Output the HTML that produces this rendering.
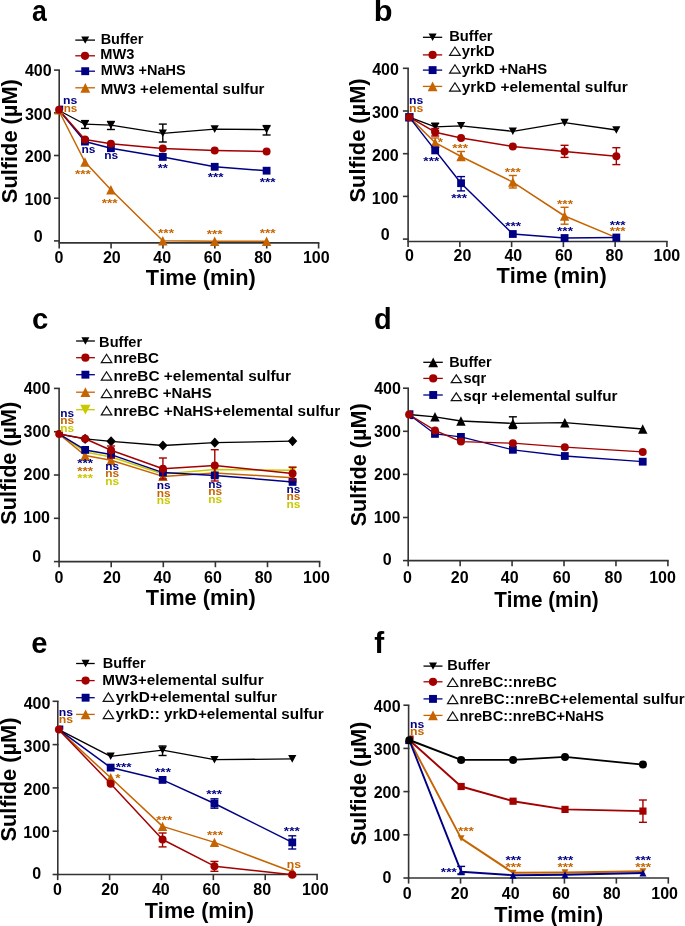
<!DOCTYPE html>
<html><head><meta charset="utf-8"><style>
html,body{margin:0;padding:0;background:#fff;overflow:hidden;}
svg{display:block;will-change:transform;}
text{font-family:"Liberation Sans",sans-serif;font-weight:bold;font-kerning:none;}
</style></head><body>
<svg width="685" height="926" viewBox="0 0 685 926">
<rect width="685" height="926" fill="#fff"/>
<text transform="translate(32.12,20.8) scale(0.9183,1.0000)" font-size="29" fill="#000000">a</text>
<line x1="59.2" y1="70.1" x2="59.2" y2="242.9" stroke="#333333" stroke-width="1.6"/>
<line x1="54" y1="240.9" x2="60" y2="240.9" stroke="#333333" stroke-width="1.6"/>
<line x1="54" y1="198.2" x2="60" y2="198.2" stroke="#333333" stroke-width="1.6"/>
<line x1="54" y1="155.5" x2="60" y2="155.5" stroke="#333333" stroke-width="1.6"/>
<line x1="54" y1="112.8" x2="60" y2="112.8" stroke="#333333" stroke-width="1.6"/>
<line x1="54" y1="70.1" x2="60" y2="70.1" stroke="#333333" stroke-width="1.6"/>
<line x1="58.4" y1="242.9" x2="319.4" y2="242.9" stroke="#333333" stroke-width="1.6"/>
<line x1="59.2" y1="242.9" x2="59.2" y2="248.5" stroke="#333333" stroke-width="1.6"/>
<line x1="111.08" y1="242.9" x2="111.08" y2="248.5" stroke="#333333" stroke-width="1.6"/>
<line x1="162.96" y1="242.9" x2="162.96" y2="248.5" stroke="#333333" stroke-width="1.6"/>
<line x1="214.84" y1="242.9" x2="214.84" y2="248.5" stroke="#333333" stroke-width="1.6"/>
<line x1="266.72" y1="242.9" x2="266.72" y2="248.5" stroke="#333333" stroke-width="1.6"/>
<line x1="318.6" y1="242.9" x2="318.6" y2="248.5" stroke="#333333" stroke-width="1.6"/>
<text transform="translate(24.96,76.31) scale(1.0000,1)" font-size="16" fill="#000000">400</text>
<text transform="translate(24.9,119.8) scale(1.0000,1)" font-size="16" fill="#000000">300</text>
<text transform="translate(24.8,162.41) scale(1.0000,1)" font-size="16" fill="#000000">200</text>
<text transform="translate(24.58,205.31) scale(1.0000,1)" font-size="16" fill="#000000">100</text>
<text transform="translate(33.66,241.91) scale(1.0000,1)" font-size="16" fill="#000000">0</text>
<text transform="translate(54.46,262.6) scale(1.0000,1)" font-size="16" fill="#000000">0</text>
<text transform="translate(102.95,262.6) scale(1.0000,1)" font-size="16" fill="#000000">20</text>
<text transform="translate(153.31,262.6) scale(1.0000,1)" font-size="16" fill="#000000">40</text>
<text transform="translate(203.74,262.6) scale(1.0000,1)" font-size="16" fill="#000000">60</text>
<text transform="translate(254.18,262.6) scale(1.0000,1)" font-size="16" fill="#000000">80</text>
<text transform="translate(302.88,262.6) scale(1.0000,1)" font-size="16" fill="#000000">100</text>
<text transform="translate(145.86,285) scale(0.9716,1.0000)" font-size="22.4" fill="#000000">Time (min)</text>
<text transform="translate(17.2,203.13) rotate(-90) scale(1.0050,1)" font-size="21.7" fill="#000000">Sulfide (µM)</text>
<line x1="75.3" y1="40.1" x2="95" y2="40.1" stroke="#000000" stroke-width="1.3"/>
<polygon points="81.2,36.38 89.2,36.38 85.2,43.82" fill="#000000"/>
<line x1="75.3" y1="55.8" x2="95" y2="55.8" stroke="#a30000" stroke-width="1.3"/>
<circle cx="85" cy="55.8" r="4.1" fill="#a30000"/>
<line x1="75.3" y1="71.2" x2="95" y2="71.2" stroke="#000084" stroke-width="1.3"/>
<rect x="81.25" y="67.25" width="7.9" height="7.9" fill="#000084"/>
<line x1="75.3" y1="87.8" x2="95" y2="87.8" stroke="#c56400" stroke-width="1.3"/>
<polygon points="80.4,92.7 90.2,92.7 85.3,82.9" fill="#c56400"/>
<text transform="translate(100.63,43.8) scale(0.9887,1.0000)" font-size="14.7" fill="#000000">Buffer</text>
<text transform="translate(100.32,58.7) scale(0.9945,1.0000)" font-size="14.7" fill="#000000">MW3</text>
<text transform="translate(100.83,75.3) scale(0.9856,1.0000)" font-size="14.7" fill="#000000">MW3 +NaHS</text>
<text transform="translate(100.79,94.2) scale(1.0259,1.0000)" font-size="14.7" fill="#000000">MW3 +elemental sulfur</text>
<polyline points="59,111 84.95,162 110.9,189.8 162.8,240.8 214.7,241.2 266.6,241.2" fill="none" stroke="#c56400" stroke-width="1.5" stroke-linejoin="round"/>
<polygon points="80.25,166.7 89.65,166.7 84.95,157.3" fill="#c56400"/>
<polygon points="106.2,194.5 115.6,194.5 110.9,185.1" fill="#c56400"/>
<polygon points="158.1,245.5 167.5,245.5 162.8,236.1" fill="#c56400"/>
<polygon points="210,245.9 219.4,245.9 214.7,236.5" fill="#c56400"/>
<polygon points="261.9,245.9 271.3,245.9 266.6,236.5" fill="#c56400"/>
<polyline points="59,110 84.95,141.6 110.9,148.2 162.8,156.9 214.7,166.8 266.6,170.7" fill="none" stroke="#000084" stroke-width="1.5" stroke-linejoin="round"/>
<rect x="81.05" y="137.7" width="7.8" height="7.8" fill="#000084"/>
<rect x="107" y="144.3" width="7.8" height="7.8" fill="#000084"/>
<rect x="158.9" y="153" width="7.8" height="7.8" fill="#000084"/>
<rect x="210.8" y="162.9" width="7.8" height="7.8" fill="#000084"/>
<rect x="262.7" y="166.8" width="7.8" height="7.8" fill="#000084"/>
<polyline points="59,110.5 84.95,124.2 110.9,125.2 162.8,133.3 214.7,129.1 266.6,129.6" fill="none" stroke="#000000" stroke-width="1.3" stroke-linejoin="round"/>
<line x1="84.95" y1="120.6" x2="84.95" y2="128.4" stroke="#000000" stroke-width="1.4"/>
<line x1="80.95" y1="120.6" x2="88.95" y2="120.6" stroke="#000000" stroke-width="1.4"/>
<line x1="80.95" y1="128.4" x2="88.95" y2="128.4" stroke="#000000" stroke-width="1.4"/>
<line x1="110.9" y1="121.5" x2="110.9" y2="129.5" stroke="#000000" stroke-width="1.4"/>
<line x1="106.9" y1="121.5" x2="114.9" y2="121.5" stroke="#000000" stroke-width="1.4"/>
<line x1="106.9" y1="129.5" x2="114.9" y2="129.5" stroke="#000000" stroke-width="1.4"/>
<line x1="162.8" y1="124.1" x2="162.8" y2="142" stroke="#000000" stroke-width="1.4"/>
<line x1="158.8" y1="124.1" x2="166.8" y2="124.1" stroke="#000000" stroke-width="1.4"/>
<line x1="158.8" y1="142" x2="166.8" y2="142" stroke="#000000" stroke-width="1.4"/>
<line x1="266.6" y1="125.6" x2="266.6" y2="135" stroke="#000000" stroke-width="1.4"/>
<line x1="262.6" y1="125.6" x2="270.6" y2="125.6" stroke="#000000" stroke-width="1.4"/>
<line x1="262.6" y1="135" x2="270.6" y2="135" stroke="#000000" stroke-width="1.4"/>
<polygon points="80.85,120.39 89.05,120.39 84.95,128.01" fill="#000000"/>
<polygon points="106.8,121.39 115,121.39 110.9,129.01" fill="#000000"/>
<polygon points="158.7,129.49 166.9,129.49 162.8,137.11" fill="#000000"/>
<polygon points="210.6,125.29 218.8,125.29 214.7,132.91" fill="#000000"/>
<polygon points="262.5,125.79 270.7,125.79 266.6,133.41" fill="#000000"/>
<polyline points="59,109.9 84.95,139.4 110.9,143.8 162.8,148.6 214.7,150.5 266.6,151.5" fill="none" stroke="#a30000" stroke-width="1.5" stroke-linejoin="round"/>
<circle cx="84.95" cy="139.4" r="4" fill="#a30000"/>
<circle cx="110.9" cy="143.8" r="4" fill="#a30000"/>
<circle cx="162.8" cy="148.6" r="4" fill="#a30000"/>
<circle cx="214.7" cy="150.5" r="4" fill="#a30000"/>
<circle cx="266.6" cy="151.5" r="4" fill="#a30000"/>
<polygon points="54.3,114.5 63.7,114.5 59,105.1" fill="#c56400"/>
<rect x="58.8" y="105.6" width="4.4" height="4.4" fill="#000084"/>
<circle cx="59.05" cy="109.7" r="3.95" fill="#a30000"/>
<text transform="translate(62.99,103.85) scale(0.1226,0.1003)" font-size="100" fill="#000084">ns</text>
<text transform="translate(63.63,112.05) scale(0.1170,0.1040)" font-size="100" fill="#c56400">ns</text>
<text transform="translate(81.56,152.64) scale(0.1198,0.1112)" font-size="100" fill="#000084">ns</text>
<text transform="translate(104.16,159.44) scale(0.1198,0.1112)" font-size="100" fill="#000084">ns</text>
<text transform="translate(157.66,171.5) scale(0.1317,0.1156)" font-size="100" fill="#000084">**</text>
<text transform="translate(74.96,177.6) scale(0.1358,0.1156)" font-size="100" fill="#c56400">***</text>
<text transform="translate(101.66,206.5) scale(0.1358,0.1156)" font-size="100" fill="#c56400">***</text>
<text transform="translate(158.06,236.8) scale(0.1358,0.1156)" font-size="100" fill="#c56400">***</text>
<text transform="translate(207.76,181.3) scale(0.1358,0.1156)" font-size="100" fill="#000084">***</text>
<text transform="translate(206.66,237.6) scale(0.1358,0.1156)" font-size="100" fill="#c56400">***</text>
<text transform="translate(259.66,185.7) scale(0.1358,0.1156)" font-size="100" fill="#000084">***</text>
<text transform="translate(259.66,236.8) scale(0.1358,0.1156)" font-size="100" fill="#c56400">***</text>
<text transform="translate(373.77,20.8) scale(1.0607,1.0000)" font-size="29" fill="#000000">b</text>
<line x1="408.1" y1="68.3" x2="408.1" y2="241.5" stroke="#333333" stroke-width="1.6"/>
<line x1="402.9" y1="239.1" x2="408.9" y2="239.1" stroke="#333333" stroke-width="1.6"/>
<line x1="402.9" y1="196.4" x2="408.9" y2="196.4" stroke="#333333" stroke-width="1.6"/>
<line x1="402.9" y1="153.7" x2="408.9" y2="153.7" stroke="#333333" stroke-width="1.6"/>
<line x1="402.9" y1="111" x2="408.9" y2="111" stroke="#333333" stroke-width="1.6"/>
<line x1="402.9" y1="68.3" x2="408.9" y2="68.3" stroke="#333333" stroke-width="1.6"/>
<line x1="407.3" y1="241.5" x2="667.7" y2="241.5" stroke="#333333" stroke-width="1.6"/>
<line x1="408.1" y1="241.5" x2="408.1" y2="247.1" stroke="#333333" stroke-width="1.6"/>
<line x1="459.86" y1="241.5" x2="459.86" y2="247.1" stroke="#333333" stroke-width="1.6"/>
<line x1="511.62" y1="241.5" x2="511.62" y2="247.1" stroke="#333333" stroke-width="1.6"/>
<line x1="563.38" y1="241.5" x2="563.38" y2="247.1" stroke="#333333" stroke-width="1.6"/>
<line x1="615.14" y1="241.5" x2="615.14" y2="247.1" stroke="#333333" stroke-width="1.6"/>
<line x1="666.9" y1="241.5" x2="666.9" y2="247.1" stroke="#333333" stroke-width="1.6"/>
<text transform="translate(372.16,75.01) scale(1.0000,1)" font-size="16" fill="#000000">400</text>
<text transform="translate(372.1,118.2) scale(1.0000,1)" font-size="16" fill="#000000">300</text>
<text transform="translate(372,161.01) scale(1.0000,1)" font-size="16" fill="#000000">200</text>
<text transform="translate(371.78,204.01) scale(1.0000,1)" font-size="16" fill="#000000">100</text>
<text transform="translate(380.86,239.71) scale(1.0000,1)" font-size="16" fill="#000000">0</text>
<text transform="translate(404.96,261) scale(1.0000,1)" font-size="16" fill="#000000">0</text>
<text transform="translate(453.55,261) scale(1.0000,1)" font-size="16" fill="#000000">20</text>
<text transform="translate(504.41,261) scale(1.0000,1)" font-size="16" fill="#000000">40</text>
<text transform="translate(554.94,261) scale(1.0000,1)" font-size="16" fill="#000000">60</text>
<text transform="translate(605.48,261) scale(1.0000,1)" font-size="16" fill="#000000">80</text>
<text transform="translate(653.48,261) scale(1.0000,1)" font-size="16" fill="#000000">100</text>
<text transform="translate(496.46,283.1) scale(0.9734,1.0000)" font-size="22.4" fill="#000000">Time (min)</text>
<text transform="translate(364.6,202.43) rotate(-90) scale(1.0058,1)" font-size="21.7" fill="#000000">Sulfide (µM)</text>
<line x1="422.9" y1="37.3" x2="442.2" y2="37.3" stroke="#000000" stroke-width="1.3"/>
<polygon points="428.6,33.58 436.6,33.58 432.6,41.02" fill="#000000"/>
<line x1="422.9" y1="54.9" x2="442.2" y2="54.9" stroke="#a30000" stroke-width="1.3"/>
<circle cx="432.6" cy="54.9" r="4.1" fill="#a30000"/>
<line x1="422.9" y1="70.1" x2="442.2" y2="70.1" stroke="#000084" stroke-width="1.3"/>
<rect x="428.65" y="66.15" width="7.9" height="7.9" fill="#000084"/>
<line x1="422.9" y1="86.4" x2="442.2" y2="86.4" stroke="#c56400" stroke-width="1.3"/>
<polygon points="427.7,91.3 437.5,91.3 432.6,81.5" fill="#c56400"/>
<text transform="translate(449.21,40.6) scale(1.0168,1.0000)" font-size="14.5" fill="#000000">Buffer</text>
<polygon points="449.6,55.4 460.3,55.4 454.95,47" fill="none" stroke="#111" stroke-width="1.2" stroke-linejoin="miter"/>
<text transform="translate(461.78,56) scale(1.0184,1.0000)" font-size="14.5" fill="#000000">yrkD</text>
<polygon points="449.6,73.2 460.3,73.2 454.95,64.8" fill="none" stroke="#111" stroke-width="1.2" stroke-linejoin="miter"/>
<text transform="translate(461.78,73.8) scale(1.0249,1.0000)" font-size="14.5" fill="#000000">yrkD +NaHS</text>
<polygon points="449.6,91.2 460.3,91.2 454.95,82.8" fill="none" stroke="#111" stroke-width="1.2" stroke-linejoin="miter"/>
<text transform="translate(461.78,91.8) scale(1.0649,1.0000)" font-size="14.5" fill="#000000">yrkD +elemental sulfur</text>
<polyline points="409.3,117.1 435.18,142.7 461.06,156.5 512.82,182.1 564.58,216 616.34,237.6" fill="none" stroke="#c56400" stroke-width="1.5" stroke-linejoin="round"/>
<line x1="435.18" y1="138" x2="435.18" y2="147.5" stroke="#c56400" stroke-width="1.4"/>
<line x1="431.18" y1="138" x2="439.18" y2="138" stroke="#c56400" stroke-width="1.4"/>
<line x1="431.18" y1="147.5" x2="439.18" y2="147.5" stroke="#c56400" stroke-width="1.4"/>
<line x1="461.06" y1="151.5" x2="461.06" y2="160.2" stroke="#c56400" stroke-width="1.4"/>
<line x1="457.06" y1="151.5" x2="465.06" y2="151.5" stroke="#c56400" stroke-width="1.4"/>
<line x1="457.06" y1="160.2" x2="465.06" y2="160.2" stroke="#c56400" stroke-width="1.4"/>
<line x1="512.82" y1="175.5" x2="512.82" y2="188" stroke="#c56400" stroke-width="1.4"/>
<line x1="508.82" y1="175.5" x2="516.82" y2="175.5" stroke="#c56400" stroke-width="1.4"/>
<line x1="508.82" y1="188" x2="516.82" y2="188" stroke="#c56400" stroke-width="1.4"/>
<line x1="564.58" y1="207.3" x2="564.58" y2="224.2" stroke="#c56400" stroke-width="1.4"/>
<line x1="560.58" y1="207.3" x2="568.58" y2="207.3" stroke="#c56400" stroke-width="1.4"/>
<line x1="560.58" y1="224.2" x2="568.58" y2="224.2" stroke="#c56400" stroke-width="1.4"/>
<polygon points="430.48,147.4 439.88,147.4 435.18,138" fill="#c56400"/>
<polygon points="456.36,161.2 465.76,161.2 461.06,151.8" fill="#c56400"/>
<polygon points="508.12,186.8 517.52,186.8 512.82,177.4" fill="#c56400"/>
<polygon points="559.88,220.7 569.28,220.7 564.58,211.3" fill="#c56400"/>
<polyline points="409.3,117.1 435.18,150.4 461.06,183.2 512.82,234 564.58,238 616.34,237.5" fill="none" stroke="#000084" stroke-width="1.5" stroke-linejoin="round"/>
<line x1="461.06" y1="176.6" x2="461.06" y2="190.9" stroke="#000084" stroke-width="1.4"/>
<line x1="457.06" y1="176.6" x2="465.06" y2="176.6" stroke="#000084" stroke-width="1.4"/>
<line x1="457.06" y1="190.9" x2="465.06" y2="190.9" stroke="#000084" stroke-width="1.4"/>
<rect x="431.28" y="146.5" width="7.8" height="7.8" fill="#000084"/>
<rect x="457.16" y="179.3" width="7.8" height="7.8" fill="#000084"/>
<rect x="508.92" y="230.1" width="7.8" height="7.8" fill="#000084"/>
<rect x="560.68" y="234.1" width="7.8" height="7.8" fill="#000084"/>
<rect x="612.44" y="233.6" width="7.8" height="7.8" fill="#000084"/>
<polyline points="409.3,117.1 435.18,126.8 461.06,125.8 512.82,131.3 564.58,122.6 616.34,130" fill="none" stroke="#000000" stroke-width="1.3" stroke-linejoin="round"/>
<line x1="435.18" y1="123.2" x2="435.18" y2="131" stroke="#000000" stroke-width="1.4"/>
<line x1="431.18" y1="123.2" x2="439.18" y2="123.2" stroke="#000000" stroke-width="1.4"/>
<line x1="431.18" y1="131" x2="439.18" y2="131" stroke="#000000" stroke-width="1.4"/>
<polygon points="431.08,122.99 439.28,122.99 435.18,130.61" fill="#000000"/>
<polygon points="456.96,121.99 465.16,121.99 461.06,129.61" fill="#000000"/>
<polygon points="508.72,127.49 516.92,127.49 512.82,135.11" fill="#000000"/>
<polygon points="560.48,118.79 568.68,118.79 564.58,126.41" fill="#000000"/>
<polygon points="612.24,126.19 620.44,126.19 616.34,133.81" fill="#000000"/>
<polyline points="409.3,117.1 435.18,132.2 461.06,137.9 512.82,146.4 564.58,151.5 616.34,156.3" fill="none" stroke="#a30000" stroke-width="1.5" stroke-linejoin="round"/>
<line x1="435.18" y1="128.5" x2="435.18" y2="136" stroke="#a30000" stroke-width="1.4"/>
<line x1="431.18" y1="128.5" x2="439.18" y2="128.5" stroke="#a30000" stroke-width="1.4"/>
<line x1="431.18" y1="136" x2="439.18" y2="136" stroke="#a30000" stroke-width="1.4"/>
<line x1="564.58" y1="145.3" x2="564.58" y2="157.4" stroke="#a30000" stroke-width="1.4"/>
<line x1="560.58" y1="145.3" x2="568.58" y2="145.3" stroke="#a30000" stroke-width="1.4"/>
<line x1="560.58" y1="157.4" x2="568.58" y2="157.4" stroke="#a30000" stroke-width="1.4"/>
<line x1="616.34" y1="147.7" x2="616.34" y2="164.6" stroke="#a30000" stroke-width="1.4"/>
<line x1="612.34" y1="147.7" x2="620.34" y2="147.7" stroke="#a30000" stroke-width="1.4"/>
<line x1="612.34" y1="164.6" x2="620.34" y2="164.6" stroke="#a30000" stroke-width="1.4"/>
<circle cx="435.18" cy="132.2" r="4" fill="#a30000"/>
<circle cx="461.06" cy="137.9" r="4" fill="#a30000"/>
<circle cx="512.82" cy="146.4" r="4" fill="#a30000"/>
<circle cx="564.58" cy="151.5" r="4" fill="#a30000"/>
<circle cx="616.34" cy="156.3" r="4" fill="#a30000"/>
<rect x="405.15" y="113.1" width="8.4" height="8.4" fill="#000084"/>
<circle cx="409.3" cy="117.2" r="4" fill="#a30000"/>
<text transform="translate(408.99,103.85) scale(0.1226,0.1003)" font-size="100" fill="#000084">ns</text>
<text transform="translate(408.99,112.15) scale(0.1226,0.1003)" font-size="100" fill="#c56400">ns</text>
<text transform="translate(437.86,145.8) scale(0.1350,0.1156)" font-size="100" fill="#c56400">*</text>
<text transform="translate(423.36,164.5) scale(0.1358,0.1156)" font-size="100" fill="#000084">***</text>
<text transform="translate(452.26,152.4) scale(0.1358,0.1156)" font-size="100" fill="#c56400">***</text>
<text transform="translate(451.16,202.1) scale(0.1358,0.1156)" font-size="100" fill="#000084">***</text>
<text transform="translate(504.86,176.3) scale(0.1358,0.1156)" font-size="100" fill="#c56400">***</text>
<text transform="translate(505.26,230.2) scale(0.1358,0.1156)" font-size="100" fill="#000084">***</text>
<text transform="translate(557.06,208.3) scale(0.1358,0.1156)" font-size="100" fill="#c56400">***</text>
<text transform="translate(557.06,235) scale(0.1358,0.1156)" font-size="100" fill="#000084">***</text>
<text transform="translate(609.66,228.8) scale(0.1358,0.1156)" font-size="100" fill="#000084">***</text>
<text transform="translate(609.66,235) scale(0.1358,0.1156)" font-size="100" fill="#c56400">***</text>
<text transform="translate(31.95,329.4) scale(1.0109,1.0000)" font-size="29" fill="#000000">c</text>
<line x1="59.1" y1="388.4" x2="59.1" y2="561.6" stroke="#333333" stroke-width="1.6"/>
<line x1="53.9" y1="561.6" x2="59.9" y2="561.6" stroke="#333333" stroke-width="1.6"/>
<line x1="53.9" y1="518.3" x2="59.9" y2="518.3" stroke="#333333" stroke-width="1.6"/>
<line x1="53.9" y1="475" x2="59.9" y2="475" stroke="#333333" stroke-width="1.6"/>
<line x1="53.9" y1="431.7" x2="59.9" y2="431.7" stroke="#333333" stroke-width="1.6"/>
<line x1="53.9" y1="388.4" x2="59.9" y2="388.4" stroke="#333333" stroke-width="1.6"/>
<line x1="58.3" y1="561.6" x2="320.4" y2="561.6" stroke="#333333" stroke-width="1.6"/>
<line x1="59.1" y1="561.6" x2="59.1" y2="567.2" stroke="#333333" stroke-width="1.6"/>
<line x1="111.2" y1="561.6" x2="111.2" y2="567.2" stroke="#333333" stroke-width="1.6"/>
<line x1="163.3" y1="561.6" x2="163.3" y2="567.2" stroke="#333333" stroke-width="1.6"/>
<line x1="215.4" y1="561.6" x2="215.4" y2="567.2" stroke="#333333" stroke-width="1.6"/>
<line x1="267.5" y1="561.6" x2="267.5" y2="567.2" stroke="#333333" stroke-width="1.6"/>
<line x1="319.6" y1="561.6" x2="319.6" y2="567.2" stroke="#333333" stroke-width="1.6"/>
<text transform="translate(23.66,393.71) scale(1.0000,1)" font-size="16" fill="#000000">400</text>
<text transform="translate(23.6,436.8) scale(1.0000,1)" font-size="16" fill="#000000">300</text>
<text transform="translate(23.5,480.21) scale(1.0000,1)" font-size="16" fill="#000000">200</text>
<text transform="translate(23.28,523.11) scale(1.0000,1)" font-size="16" fill="#000000">100</text>
<text transform="translate(32.36,561.81) scale(1.0000,1)" font-size="16" fill="#000000">0</text>
<text transform="translate(54.41,583.3) scale(1.0000,1)" font-size="16" fill="#000000">0</text>
<text transform="translate(103,583.3) scale(1.0000,1)" font-size="16" fill="#000000">20</text>
<text transform="translate(153.61,583.3) scale(1.0000,1)" font-size="16" fill="#000000">40</text>
<text transform="translate(204.04,583.3) scale(1.0000,1)" font-size="16" fill="#000000">60</text>
<text transform="translate(254.68,583.3) scale(1.0000,1)" font-size="16" fill="#000000">80</text>
<text transform="translate(303.08,583.3) scale(1.0000,1)" font-size="16" fill="#000000">100</text>
<text transform="translate(145.86,605.2) scale(0.9716,1.0000)" font-size="22.4" fill="#000000">Time (min)</text>
<text transform="translate(16.2,524.72) rotate(-90) scale(0.9976,1)" font-size="21.7" fill="#000000">Sulfide (µM)</text>
<line x1="76.1" y1="341" x2="94.9" y2="341" stroke="#000000" stroke-width="1.3"/>
<polygon points="81.4,337.28 89.4,337.28 85.4,344.72" fill="#000000"/>
<line x1="76.1" y1="357.7" x2="94.9" y2="357.7" stroke="#a30000" stroke-width="1.3"/>
<circle cx="85.4" cy="357.7" r="4.1" fill="#a30000"/>
<line x1="76.1" y1="374.7" x2="94.9" y2="374.7" stroke="#000084" stroke-width="1.3"/>
<rect x="81.45" y="370.75" width="7.9" height="7.9" fill="#000084"/>
<line x1="76.1" y1="392.2" x2="94.9" y2="392.2" stroke="#c56400" stroke-width="1.3"/>
<polygon points="80.5,397.1 90.3,397.1 85.4,387.3" fill="#c56400"/>
<line x1="76.1" y1="409.7" x2="94.9" y2="409.7" stroke="#c9c900" stroke-width="1.3"/>
<polygon points="80.2,404.86 90.6,404.86 85.4,414.54" fill="#c9c900"/>
<text transform="translate(99.12,346.6) scale(1.0026,1.0000)" font-size="14.6" fill="#000000">Buffer</text>
<polygon points="101.3,362.7 111.8,362.7 106.55,354.3" fill="none" stroke="#111" stroke-width="1.2" stroke-linejoin="miter"/>
<text transform="translate(113.4,363.3) scale(1.0390,1.0000)" font-size="14.6" fill="#000000">nreBC</text>
<polygon points="101.3,380.2 111.8,380.2 106.55,371.8" fill="none" stroke="#111" stroke-width="1.2" stroke-linejoin="miter"/>
<text transform="translate(113.38,380.8) scale(1.0552,1.0000)" font-size="14.6" fill="#000000">nreBC +elemental sulfur</text>
<polygon points="101.3,397.7 111.8,397.7 106.55,389.3" fill="none" stroke="#111" stroke-width="1.2" stroke-linejoin="miter"/>
<text transform="translate(113.41,398.3) scale(1.0330,1.0000)" font-size="14.6" fill="#000000">nreBC +NaHS</text>
<polygon points="101.3,414.9 111.8,414.9 106.55,406.5" fill="none" stroke="#111" stroke-width="1.2" stroke-linejoin="miter"/>
<text transform="translate(113.39,415.5) scale(1.0520,1.0000)" font-size="14.6" fill="#000000">nreBC +NaHS+elemental sulfur</text>
<polyline points="59.2,434.1 85.13,452 111.06,457 162.92,474 214.78,469.6 292.57,470.3" fill="none" stroke="#c9c900" stroke-width="1.5" stroke-linejoin="round"/>
<polygon points="81.03,448.19 89.23,448.19 85.13,455.81" fill="#c9c900"/>
<polygon points="106.96,453.19 115.16,453.19 111.06,460.81" fill="#c9c900"/>
<polygon points="158.82,470.19 167.02,470.19 162.92,477.81" fill="#c9c900"/>
<polygon points="210.68,465.79 218.88,465.79 214.78,473.41" fill="#c9c900"/>
<polygon points="288.47,466.49 296.67,466.49 292.57,474.11" fill="#c9c900"/>
<polyline points="59.2,434.1 85.13,455.5 111.06,460.3 162.92,476.4 214.78,473 292.57,477.7" fill="none" stroke="#c56400" stroke-width="1.5" stroke-linejoin="round"/>
<polygon points="80.43,460.2 89.83,460.2 85.13,450.8" fill="#c56400"/>
<polygon points="106.36,465 115.76,465 111.06,455.6" fill="#c56400"/>
<polygon points="158.22,481.1 167.62,481.1 162.92,471.7" fill="#c56400"/>
<polygon points="210.08,477.7 219.48,477.7 214.78,468.3" fill="#c56400"/>
<polygon points="287.87,482.4 297.27,482.4 292.57,473" fill="#c56400"/>
<polyline points="59.2,434.1 85.13,449.9 111.06,454.6 162.92,472.6 214.78,475.4 292.57,481.9" fill="none" stroke="#000084" stroke-width="1.5" stroke-linejoin="round"/>
<rect x="81.23" y="446" width="7.8" height="7.8" fill="#000084"/>
<rect x="107.16" y="450.7" width="7.8" height="7.8" fill="#000084"/>
<rect x="159.02" y="468.7" width="7.8" height="7.8" fill="#000084"/>
<rect x="210.88" y="471.5" width="7.8" height="7.8" fill="#000084"/>
<rect x="288.67" y="478" width="7.8" height="7.8" fill="#000084"/>
<polyline points="59.2,434.1 85.13,438.8 111.06,441.3 162.92,445.5 214.78,442.7 292.57,441.1" fill="none" stroke="#000000" stroke-width="1.3" stroke-linejoin="round"/>
<polygon points="85.13,433.7 89.83,438.8 85.13,443.9 80.43,438.8" fill="#000000"/>
<polygon points="111.06,436.2 115.76,441.3 111.06,446.4 106.36,441.3" fill="#000000"/>
<polygon points="162.92,440.4 167.62,445.5 162.92,450.6 158.22,445.5" fill="#000000"/>
<polygon points="214.78,437.6 219.48,442.7 214.78,447.8 210.08,442.7" fill="#000000"/>
<polygon points="292.57,436 297.27,441.1 292.57,446.2 287.87,441.1" fill="#000000"/>
<polyline points="59.2,434.1 85.13,438.8 111.06,450.2 162.92,468.8 214.78,465.4 292.57,473.5" fill="none" stroke="#a30000" stroke-width="1.5" stroke-linejoin="round"/>
<line x1="111.06" y1="446" x2="111.06" y2="458" stroke="#a30000" stroke-width="1.4"/>
<line x1="107.06" y1="446" x2="115.06" y2="446" stroke="#a30000" stroke-width="1.4"/>
<line x1="107.06" y1="458" x2="115.06" y2="458" stroke="#a30000" stroke-width="1.4"/>
<line x1="162.92" y1="458" x2="162.92" y2="479" stroke="#a30000" stroke-width="1.4"/>
<line x1="158.92" y1="458" x2="166.92" y2="458" stroke="#a30000" stroke-width="1.4"/>
<line x1="158.92" y1="479" x2="166.92" y2="479" stroke="#a30000" stroke-width="1.4"/>
<line x1="214.78" y1="449.7" x2="214.78" y2="481" stroke="#a30000" stroke-width="1.4"/>
<line x1="210.78" y1="449.7" x2="218.78" y2="449.7" stroke="#a30000" stroke-width="1.4"/>
<line x1="210.78" y1="481" x2="218.78" y2="481" stroke="#a30000" stroke-width="1.4"/>
<line x1="292.57" y1="467.2" x2="292.57" y2="480" stroke="#a30000" stroke-width="1.4"/>
<line x1="288.57" y1="467.2" x2="296.57" y2="467.2" stroke="#a30000" stroke-width="1.4"/>
<line x1="288.57" y1="480" x2="296.57" y2="480" stroke="#a30000" stroke-width="1.4"/>
<circle cx="85.13" cy="438.8" r="4" fill="#a30000"/>
<circle cx="111.06" cy="450.2" r="4" fill="#a30000"/>
<circle cx="162.92" cy="468.8" r="4" fill="#a30000"/>
<circle cx="214.78" cy="465.4" r="4" fill="#a30000"/>
<circle cx="292.57" cy="473.5" r="4" fill="#a30000"/>
<circle cx="59.2" cy="433.9" r="4" fill="#a30000"/>
<text transform="translate(60.22,417) scale(0.1189,0.1021)" font-size="100" fill="#000084">ns</text>
<text transform="translate(60.22,424.4) scale(0.1189,0.1021)" font-size="100" fill="#c56400">ns</text>
<text transform="translate(60.22,431.9) scale(0.1189,0.1021)" font-size="100" fill="#c9c900">ns</text>
<text transform="translate(77.16,467.4) scale(0.1358,0.1156)" font-size="100" fill="#000084">***</text>
<text transform="translate(77.16,474.6) scale(0.1358,0.1156)" font-size="100" fill="#c56400">***</text>
<text transform="translate(77.16,481.8) scale(0.1358,0.1156)" font-size="100" fill="#c9c900">***</text>
<text transform="translate(105.22,469.7) scale(0.1189,0.1021)" font-size="100" fill="#000084">ns</text>
<text transform="translate(105.22,477.3) scale(0.1189,0.1021)" font-size="100" fill="#c56400">ns</text>
<text transform="translate(105.22,485) scale(0.1189,0.1021)" font-size="100" fill="#c9c900">ns</text>
<text transform="translate(156.82,489.2) scale(0.1189,0.1021)" font-size="100" fill="#000084">ns</text>
<text transform="translate(156.82,496.8) scale(0.1189,0.1021)" font-size="100" fill="#c56400">ns</text>
<text transform="translate(156.82,504.4) scale(0.1189,0.1021)" font-size="100" fill="#c9c900">ns</text>
<text transform="translate(208.32,487.6) scale(0.1189,0.1021)" font-size="100" fill="#000084">ns</text>
<text transform="translate(208.32,495.1) scale(0.1189,0.1021)" font-size="100" fill="#c56400">ns</text>
<text transform="translate(208.32,502.8) scale(0.1189,0.1021)" font-size="100" fill="#c9c900">ns</text>
<text transform="translate(286.52,492.7) scale(0.1189,0.1021)" font-size="100" fill="#000084">ns</text>
<text transform="translate(286.52,500.2) scale(0.1189,0.1021)" font-size="100" fill="#c56400">ns</text>
<text transform="translate(286.52,507.9) scale(0.1189,0.1021)" font-size="100" fill="#c9c900">ns</text>
<text transform="translate(374.11,329.4) scale(0.9991,1.0000)" font-size="29" fill="#000000">d</text>
<line x1="408.2" y1="388.2" x2="408.2" y2="560.6" stroke="#333333" stroke-width="1.6"/>
<line x1="403" y1="560.6" x2="409" y2="560.6" stroke="#333333" stroke-width="1.6"/>
<line x1="403" y1="517.5" x2="409" y2="517.5" stroke="#333333" stroke-width="1.6"/>
<line x1="403" y1="474.4" x2="409" y2="474.4" stroke="#333333" stroke-width="1.6"/>
<line x1="403" y1="431.3" x2="409" y2="431.3" stroke="#333333" stroke-width="1.6"/>
<line x1="403" y1="388.2" x2="409" y2="388.2" stroke="#333333" stroke-width="1.6"/>
<line x1="407.4" y1="560.6" x2="668.7" y2="560.6" stroke="#333333" stroke-width="1.6"/>
<line x1="408.2" y1="560.6" x2="408.2" y2="566.2" stroke="#333333" stroke-width="1.6"/>
<line x1="460.14" y1="560.6" x2="460.14" y2="566.2" stroke="#333333" stroke-width="1.6"/>
<line x1="512.08" y1="560.6" x2="512.08" y2="566.2" stroke="#333333" stroke-width="1.6"/>
<line x1="564.02" y1="560.6" x2="564.02" y2="566.2" stroke="#333333" stroke-width="1.6"/>
<line x1="615.96" y1="560.6" x2="615.96" y2="566.2" stroke="#333333" stroke-width="1.6"/>
<line x1="667.9" y1="560.6" x2="667.9" y2="566.2" stroke="#333333" stroke-width="1.6"/>
<text transform="translate(374.16,394.41) scale(1.0000,1)" font-size="16" fill="#000000">400</text>
<text transform="translate(374.1,437) scale(1.0000,1)" font-size="16" fill="#000000">300</text>
<text transform="translate(374,480.21) scale(1.0000,1)" font-size="16" fill="#000000">200</text>
<text transform="translate(373.78,523.21) scale(1.0000,1)" font-size="16" fill="#000000">100</text>
<text transform="translate(382.86,564.91) scale(1.0000,1)" font-size="16" fill="#000000">0</text>
<text transform="translate(403.06,582.8) scale(1.0000,1)" font-size="16" fill="#000000">0</text>
<text transform="translate(450.75,582.8) scale(1.0000,1)" font-size="16" fill="#000000">20</text>
<text transform="translate(500.81,582.8) scale(1.0000,1)" font-size="16" fill="#000000">40</text>
<text transform="translate(552.74,582.8) scale(1.0000,1)" font-size="16" fill="#000000">60</text>
<text transform="translate(604.48,582.8) scale(1.0000,1)" font-size="16" fill="#000000">80</text>
<text transform="translate(649.18,582.8) scale(1.0000,1)" font-size="16" fill="#000000">100</text>
<text transform="translate(494.17,607) scale(0.9233,1.0000)" font-size="22.4" fill="#000000">Time (min)</text>
<text transform="translate(366.4,526.32) rotate(-90) scale(0.9976,1)" font-size="21.7" fill="#000000">Sulfide (µM)</text>
<line x1="423.3" y1="362.3" x2="442.8" y2="362.3" stroke="#000000" stroke-width="1.3"/>
<polygon points="428.3,367.2 438.1,367.2 433.2,357.4" fill="#000000"/>
<line x1="423.3" y1="378.4" x2="442.8" y2="378.4" stroke="#a30000" stroke-width="1.3"/>
<circle cx="433.2" cy="378.4" r="4.1" fill="#a30000"/>
<line x1="423.3" y1="395" x2="442.8" y2="395" stroke="#000084" stroke-width="1.3"/>
<rect x="429.25" y="391.05" width="7.9" height="7.9" fill="#000084"/>
<text transform="translate(449.13,366.6) scale(0.9839,1.0000)" font-size="14.7" fill="#000000">Buffer</text>
<polygon points="451.2,382.7 461.4,382.7 456.3,374.9" fill="none" stroke="#111" stroke-width="1.2" stroke-linejoin="miter"/>
<text transform="translate(463.38,383.3) scale(0.9592,1.0000)" font-size="15.3" fill="#000000">sqr</text>
<polygon points="451.2,400.6 461.4,400.6 456.3,392.8" fill="none" stroke="#111" stroke-width="1.2" stroke-linejoin="miter"/>
<text transform="translate(463.36,401.2) scale(0.9990,1.0000)" font-size="15.3" fill="#000000">sqr +elemental sulfur</text>
<polyline points="409,414.5 434.97,433.9 460.94,436.9 512.88,449.8 564.82,456 642.73,461.7" fill="none" stroke="#000084" stroke-width="1.3" stroke-linejoin="round"/>
<rect x="431.07" y="430" width="7.8" height="7.8" fill="#000084"/>
<rect x="457.04" y="433" width="7.8" height="7.8" fill="#000084"/>
<rect x="508.98" y="445.9" width="7.8" height="7.8" fill="#000084"/>
<rect x="560.92" y="452.1" width="7.8" height="7.8" fill="#000084"/>
<rect x="638.83" y="457.8" width="7.8" height="7.8" fill="#000084"/>
<polyline points="409,414.5 434.97,416.8 460.94,421 512.88,423.4 564.82,422.7 642.73,429" fill="none" stroke="#000000" stroke-width="1.3" stroke-linejoin="round"/>
<line x1="512.88" y1="416.8" x2="512.88" y2="428.5" stroke="#000000" stroke-width="1.4"/>
<line x1="508.88" y1="416.8" x2="516.88" y2="416.8" stroke="#000000" stroke-width="1.4"/>
<line x1="508.88" y1="428.5" x2="516.88" y2="428.5" stroke="#000000" stroke-width="1.4"/>
<polygon points="430.27,421.5 439.67,421.5 434.97,412.1" fill="#000000"/>
<polygon points="456.24,425.7 465.64,425.7 460.94,416.3" fill="#000000"/>
<polygon points="508.18,428.1 517.58,428.1 512.88,418.7" fill="#000000"/>
<polygon points="560.12,427.4 569.52,427.4 564.82,418" fill="#000000"/>
<polygon points="638.03,433.7 647.43,433.7 642.73,424.3" fill="#000000"/>
<polyline points="409,414.5 434.97,430.4 460.94,441.6 512.88,443.2 564.82,447.2 642.73,451.9" fill="none" stroke="#a30000" stroke-width="1.3" stroke-linejoin="round"/>
<circle cx="434.97" cy="430.4" r="4" fill="#a30000"/>
<circle cx="460.94" cy="441.6" r="4" fill="#a30000"/>
<circle cx="512.88" cy="443.2" r="4" fill="#a30000"/>
<circle cx="564.82" cy="447.2" r="4" fill="#a30000"/>
<circle cx="642.73" cy="451.9" r="4" fill="#a30000"/>
<rect x="409.2" y="410.3" width="4.2" height="4.2" fill="#000084"/>
<rect x="409.8" y="415.5" width="3.6" height="3.6" fill="#000084"/>
<circle cx="409.1" cy="414.5" r="4" fill="#a30000"/>
<text transform="translate(31.16,653.3) scale(1.0068,1.0000)" font-size="29" fill="#000000">e</text>
<line x1="57.8" y1="701.3" x2="57.8" y2="874.5" stroke="#333333" stroke-width="1.6"/>
<line x1="52.6" y1="874.5" x2="58.6" y2="874.5" stroke="#333333" stroke-width="1.6"/>
<line x1="52.6" y1="831.2" x2="58.6" y2="831.2" stroke="#333333" stroke-width="1.6"/>
<line x1="52.6" y1="787.9" x2="58.6" y2="787.9" stroke="#333333" stroke-width="1.6"/>
<line x1="52.6" y1="744.6" x2="58.6" y2="744.6" stroke="#333333" stroke-width="1.6"/>
<line x1="52.6" y1="701.3" x2="58.6" y2="701.3" stroke="#333333" stroke-width="1.6"/>
<line x1="57" y1="874.5" x2="317.9" y2="874.5" stroke="#333333" stroke-width="1.6"/>
<line x1="57.7" y1="874.5" x2="57.7" y2="880.1" stroke="#333333" stroke-width="1.6"/>
<line x1="109.58" y1="874.5" x2="109.58" y2="880.1" stroke="#333333" stroke-width="1.6"/>
<line x1="161.46" y1="874.5" x2="161.46" y2="880.1" stroke="#333333" stroke-width="1.6"/>
<line x1="213.34" y1="874.5" x2="213.34" y2="880.1" stroke="#333333" stroke-width="1.6"/>
<line x1="265.22" y1="874.5" x2="265.22" y2="880.1" stroke="#333333" stroke-width="1.6"/>
<line x1="317.1" y1="874.5" x2="317.1" y2="880.1" stroke="#333333" stroke-width="1.6"/>
<text transform="translate(23.66,708.81) scale(1.0000,1)" font-size="16" fill="#000000">400</text>
<text transform="translate(23.6,752.1) scale(1.0000,1)" font-size="16" fill="#000000">300</text>
<text transform="translate(23.5,795.01) scale(1.0000,1)" font-size="16" fill="#000000">200</text>
<text transform="translate(23.28,837.91) scale(1.0000,1)" font-size="16" fill="#000000">100</text>
<text transform="translate(32.36,879.01) scale(1.0000,1)" font-size="16" fill="#000000">0</text>
<text transform="translate(53.11,894.6) scale(1.0000,1)" font-size="16" fill="#000000">0</text>
<text transform="translate(101.2,894.6) scale(1.0000,1)" font-size="16" fill="#000000">20</text>
<text transform="translate(151.91,894.6) scale(1.0000,1)" font-size="16" fill="#000000">40</text>
<text transform="translate(202.54,894.6) scale(1.0000,1)" font-size="16" fill="#000000">60</text>
<text transform="translate(253.23,894.6) scale(1.0000,1)" font-size="16" fill="#000000">80</text>
<text transform="translate(301.88,894.6) scale(1.0000,1)" font-size="16" fill="#000000">100</text>
<text transform="translate(144.66,917.5) scale(0.9662,1.0000)" font-size="22.4" fill="#000000">Time (min)</text>
<text transform="translate(16.2,841.53) rotate(-90) scale(1.0050,1)" font-size="21.7" fill="#000000">Sulfide (µM)</text>
<line x1="76.1" y1="663.5" x2="94.7" y2="663.5" stroke="#000000" stroke-width="1.3"/>
<polygon points="81.6,659.78 89.6,659.78 85.6,667.22" fill="#000000"/>
<line x1="76.1" y1="680.6" x2="94.7" y2="680.6" stroke="#a30000" stroke-width="1.3"/>
<circle cx="85.6" cy="680.6" r="4.1" fill="#a30000"/>
<line x1="76.1" y1="697.7" x2="94.7" y2="697.7" stroke="#000084" stroke-width="1.3"/>
<rect x="81.65" y="693.75" width="7.9" height="7.9" fill="#000084"/>
<line x1="76.1" y1="714.4" x2="94.7" y2="714.4" stroke="#c56400" stroke-width="1.3"/>
<polygon points="80.7,719.3 90.5,719.3 85.6,709.5" fill="#c56400"/>
<text transform="translate(102.83,667.9) scale(0.9911,1.0000)" font-size="14.7" fill="#000000">Buffer</text>
<text transform="translate(102.18,684.8) scale(1.0388,1.0000)" font-size="14.7" fill="#000000">MW3+elemental sulfur</text>
<polygon points="103.2,701.4 113.6,701.4 108.4,693" fill="none" stroke="#111" stroke-width="1.2" stroke-linejoin="miter"/>
<text transform="translate(115.68,702) scale(1.0484,1.0000)" font-size="14.7" fill="#000000">yrkD+elemental sulfur</text>
<polygon points="103.2,718.7 113.6,718.7 108.4,710.3" fill="none" stroke="#111" stroke-width="1.2" stroke-linejoin="miter"/>
<text transform="translate(115.68,719.4) scale(1.0383,1.0000)" font-size="14.7" fill="#000000">yrkD:: yrkD+elemental sulfur</text>
<polyline points="58.8,729.7 110.68,777.8 162.56,826.4 214.44,842.4 292.26,871.8" fill="none" stroke="#c56400" stroke-width="1.5" stroke-linejoin="round"/>
<polygon points="105.98,782.5 115.38,782.5 110.68,773.1" fill="#c56400"/>
<polygon points="157.86,831.1 167.26,831.1 162.56,821.7" fill="#c56400"/>
<polygon points="209.74,847.1 219.14,847.1 214.44,837.7" fill="#c56400"/>
<polygon points="287.56,876.5 296.96,876.5 292.26,867.1" fill="#c56400"/>
<polyline points="58.8,729.7 110.68,767.6 162.56,779.9 214.44,803.5 292.26,842.4" fill="none" stroke="#000084" stroke-width="1.5" stroke-linejoin="round"/>
<line x1="214.44" y1="798.8" x2="214.44" y2="808.2" stroke="#000084" stroke-width="1.4"/>
<line x1="210.44" y1="798.8" x2="218.44" y2="798.8" stroke="#000084" stroke-width="1.4"/>
<line x1="210.44" y1="808.2" x2="218.44" y2="808.2" stroke="#000084" stroke-width="1.4"/>
<line x1="292.26" y1="835.8" x2="292.26" y2="849" stroke="#000084" stroke-width="1.4"/>
<line x1="288.26" y1="835.8" x2="296.26" y2="835.8" stroke="#000084" stroke-width="1.4"/>
<line x1="288.26" y1="849" x2="296.26" y2="849" stroke="#000084" stroke-width="1.4"/>
<rect x="106.78" y="763.7" width="7.8" height="7.8" fill="#000084"/>
<rect x="158.66" y="776" width="7.8" height="7.8" fill="#000084"/>
<rect x="210.54" y="799.6" width="7.8" height="7.8" fill="#000084"/>
<rect x="288.36" y="838.5" width="7.8" height="7.8" fill="#000084"/>
<polyline points="58.8,729.7 110.68,756.3 162.56,750.2 214.44,759.7 292.26,758.9" fill="none" stroke="#000000" stroke-width="1.3" stroke-linejoin="round"/>
<line x1="162.56" y1="746" x2="162.56" y2="755.5" stroke="#000000" stroke-width="1.4"/>
<line x1="158.56" y1="746" x2="166.56" y2="746" stroke="#000000" stroke-width="1.4"/>
<line x1="158.56" y1="755.5" x2="166.56" y2="755.5" stroke="#000000" stroke-width="1.4"/>
<polygon points="106.58,752.49 114.78,752.49 110.68,760.11" fill="#000000"/>
<polygon points="158.46,746.39 166.66,746.39 162.56,754.01" fill="#000000"/>
<polygon points="210.34,755.89 218.54,755.89 214.44,763.51" fill="#000000"/>
<polygon points="288.16,755.09 296.36,755.09 292.26,762.71" fill="#000000"/>
<polyline points="58.8,729.7 110.68,783.8 162.56,839.5 214.44,866.2 292.26,874.7" fill="none" stroke="#a30000" stroke-width="1.5" stroke-linejoin="round"/>
<line x1="162.56" y1="833" x2="162.56" y2="846.9" stroke="#a30000" stroke-width="1.4"/>
<line x1="158.56" y1="833" x2="166.56" y2="833" stroke="#a30000" stroke-width="1.4"/>
<line x1="158.56" y1="846.9" x2="166.56" y2="846.9" stroke="#a30000" stroke-width="1.4"/>
<line x1="214.44" y1="861.4" x2="214.44" y2="871.3" stroke="#a30000" stroke-width="1.4"/>
<line x1="210.44" y1="861.4" x2="218.44" y2="861.4" stroke="#a30000" stroke-width="1.4"/>
<line x1="210.44" y1="871.3" x2="218.44" y2="871.3" stroke="#a30000" stroke-width="1.4"/>
<circle cx="110.68" cy="783.8" r="4" fill="#a30000"/>
<circle cx="162.56" cy="839.5" r="4" fill="#a30000"/>
<circle cx="214.44" cy="866.2" r="4" fill="#a30000"/>
<circle cx="292.26" cy="874.7" r="4" fill="#a30000"/>
<rect x="59.1" y="725.5" width="4.2" height="4.2" fill="#000084"/>
<circle cx="58.9" cy="729.6" r="4" fill="#a30000"/>
<text transform="translate(58.69,715.55) scale(0.1226,0.1003)" font-size="100" fill="#000084">ns</text>
<text transform="translate(58.69,722.85) scale(0.1226,0.1003)" font-size="100" fill="#c56400">ns</text>
<text transform="translate(115.66,771) scale(0.1358,0.1156)" font-size="100" fill="#000084">***</text>
<text transform="translate(115.16,782.3) scale(0.1350,0.1156)" font-size="100" fill="#c56400">*</text>
<text transform="translate(155.06,776.2) scale(0.1358,0.1156)" font-size="100" fill="#000084">***</text>
<text transform="translate(156.36,823.8) scale(0.1358,0.1156)" font-size="100" fill="#c56400">***</text>
<text transform="translate(206.26,797.9) scale(0.1358,0.1156)" font-size="100" fill="#000084">***</text>
<text transform="translate(207.06,839.1) scale(0.1358,0.1156)" font-size="100" fill="#c56400">***</text>
<text transform="translate(283.86,834.9) scale(0.1358,0.1156)" font-size="100" fill="#000084">***</text>
<text transform="translate(286.69,868.19) scale(0.1226,0.1131)" font-size="100" fill="#c56400">ns</text>
<text transform="translate(374.19,652.9) scale(1.0306,1.0000)" font-size="29" fill="#000000">f</text>
<line x1="408.6" y1="705.2" x2="408.6" y2="878" stroke="#333333" stroke-width="1.6"/>
<line x1="403.4" y1="878" x2="409.4" y2="878" stroke="#333333" stroke-width="1.6"/>
<line x1="403.4" y1="834.8" x2="409.4" y2="834.8" stroke="#333333" stroke-width="1.6"/>
<line x1="403.4" y1="791.6" x2="409.4" y2="791.6" stroke="#333333" stroke-width="1.6"/>
<line x1="403.4" y1="748.4" x2="409.4" y2="748.4" stroke="#333333" stroke-width="1.6"/>
<line x1="403.4" y1="705.2" x2="409.4" y2="705.2" stroke="#333333" stroke-width="1.6"/>
<line x1="407.8" y1="878" x2="669.1" y2="878" stroke="#333333" stroke-width="1.6"/>
<line x1="408.6" y1="878" x2="408.6" y2="883.6" stroke="#333333" stroke-width="1.6"/>
<line x1="460.54" y1="878" x2="460.54" y2="883.6" stroke="#333333" stroke-width="1.6"/>
<line x1="512.48" y1="878" x2="512.48" y2="883.6" stroke="#333333" stroke-width="1.6"/>
<line x1="564.42" y1="878" x2="564.42" y2="883.6" stroke="#333333" stroke-width="1.6"/>
<line x1="616.36" y1="878" x2="616.36" y2="883.6" stroke="#333333" stroke-width="1.6"/>
<line x1="668.3" y1="878" x2="668.3" y2="883.6" stroke="#333333" stroke-width="1.6"/>
<text transform="translate(373.86,712.21) scale(1.0000,1)" font-size="16" fill="#000000">400</text>
<text transform="translate(373.8,755.4) scale(1.0000,1)" font-size="16" fill="#000000">300</text>
<text transform="translate(373.7,798.01) scale(1.0000,1)" font-size="16" fill="#000000">200</text>
<text transform="translate(373.48,841.11) scale(1.0000,1)" font-size="16" fill="#000000">100</text>
<text transform="translate(382.56,882.91) scale(1.0000,1)" font-size="16" fill="#000000">0</text>
<text transform="translate(402.66,899.3) scale(1.0000,1)" font-size="16" fill="#000000">0</text>
<text transform="translate(450.85,899.3) scale(1.0000,1)" font-size="16" fill="#000000">20</text>
<text transform="translate(501.81,899.3) scale(1.0000,1)" font-size="16" fill="#000000">40</text>
<text transform="translate(552.14,899.3) scale(1.0000,1)" font-size="16" fill="#000000">60</text>
<text transform="translate(602.88,899.3) scale(1.0000,1)" font-size="16" fill="#000000">80</text>
<text transform="translate(651.28,899.3) scale(1.0000,1)" font-size="16" fill="#000000">100</text>
<text transform="translate(494.16,921.7) scale(0.9626,1.0000)" font-size="22.4" fill="#000000">Time (min)</text>
<text transform="translate(366.4,845.53) rotate(-90) scale(1.0042,1)" font-size="21.7" fill="#000000">Sulfide (µM)</text>
<line x1="423.5" y1="666.1" x2="442.5" y2="666.1" stroke="#000000" stroke-width="1.3"/>
<polygon points="429,662.38 437,662.38 433,669.82" fill="#000000"/>
<line x1="423.5" y1="681.8" x2="442.5" y2="681.8" stroke="#a30000" stroke-width="1.3"/>
<circle cx="433" cy="681.8" r="4.1" fill="#a30000"/>
<line x1="423.5" y1="698.9" x2="442.5" y2="698.9" stroke="#000084" stroke-width="1.3"/>
<rect x="429.05" y="694.95" width="7.9" height="7.9" fill="#000084"/>
<line x1="423.5" y1="715.4" x2="442.5" y2="715.4" stroke="#c56400" stroke-width="1.3"/>
<polygon points="428.1,720.3 437.9,720.3 433,710.5" fill="#c56400"/>
<text transform="translate(447.22,669.9) scale(0.9934,1.0000)" font-size="14.7" fill="#000000">Buffer</text>
<polygon points="447.5,686.5 457.9,686.5 452.7,678.1" fill="none" stroke="#111" stroke-width="1.2" stroke-linejoin="miter"/>
<text transform="translate(459.44,687.1) scale(0.9945,1.0000)" font-size="14.7" fill="#000000">nreBC::nreBC</text>
<polygon points="447.5,703.6 457.9,703.6 452.7,695.2" fill="none" stroke="#111" stroke-width="1.2" stroke-linejoin="miter"/>
<text transform="translate(459.4,704.2) scale(1.0278,1.0000)" font-size="14.7" fill="#000000">nreBC::nreBC+elemental sulfur</text>
<polygon points="447.5,720.3 457.9,720.3 452.7,711.9" fill="none" stroke="#111" stroke-width="1.2" stroke-linejoin="miter"/>
<text transform="translate(459.44,720.9) scale(0.9920,1.0000)" font-size="14.7" fill="#000000">nreBC::nreBC+NaHS</text>
<polyline points="409.2,740 461.14,838.4 513.08,872.8 565.02,872.5 642.93,871.3" fill="none" stroke="#c56400" stroke-width="1.9" stroke-linejoin="round"/>
<polygon points="457.74,835.24 464.54,835.24 461.14,841.56" fill="#c56400"/>
<polygon points="509.68,869.64 516.48,869.64 513.08,875.96" fill="#c56400"/>
<polygon points="561.62,869.34 568.42,869.34 565.02,875.66" fill="#c56400"/>
<polygon points="639.53,868.14 646.33,868.14 642.93,874.46" fill="#c56400"/>
<polyline points="409.2,740 461.14,871.7 513.08,875.2 565.02,874.8 642.93,873" fill="none" stroke="#000084" stroke-width="1.9" stroke-linejoin="round"/>
<line x1="461.14" y1="866.4" x2="461.14" y2="874" stroke="#000084" stroke-width="1.4"/>
<line x1="457.14" y1="866.4" x2="465.14" y2="866.4" stroke="#000084" stroke-width="1.4"/>
<line x1="457.14" y1="874" x2="465.14" y2="874" stroke="#000084" stroke-width="1.4"/>
<polygon points="457.64,875.2 464.64,875.2 461.14,868.2" fill="#000084"/>
<polygon points="509.58,878.7 516.58,878.7 513.08,871.7" fill="#000084"/>
<polygon points="561.52,878.3 568.52,878.3 565.02,871.3" fill="#000084"/>
<polygon points="639.43,876.5 646.43,876.5 642.93,869.5" fill="#000084"/>
<polyline points="409.2,740 461.14,786.5 513.08,801.2 565.02,809.4 642.93,811.1" fill="none" stroke="#a30000" stroke-width="1.9" stroke-linejoin="round"/>
<line x1="642.93" y1="800" x2="642.93" y2="822.3" stroke="#a30000" stroke-width="1.4"/>
<line x1="638.93" y1="800" x2="646.93" y2="800" stroke="#a30000" stroke-width="1.4"/>
<line x1="638.93" y1="822.3" x2="646.93" y2="822.3" stroke="#a30000" stroke-width="1.4"/>
<rect x="457.54" y="782.9" width="7.2" height="7.2" fill="#a30000"/>
<rect x="509.48" y="797.6" width="7.2" height="7.2" fill="#a30000"/>
<rect x="561.42" y="805.8" width="7.2" height="7.2" fill="#a30000"/>
<rect x="639.33" y="807.5" width="7.2" height="7.2" fill="#a30000"/>
<polyline points="409.2,740 461.14,759.9 513.08,759.9 565.02,756.9 642.93,764.6" fill="none" stroke="#000000" stroke-width="1.9" stroke-linejoin="round"/>
<circle cx="461.14" cy="759.9" r="4" fill="#000000"/>
<circle cx="513.08" cy="759.9" r="4" fill="#000000"/>
<circle cx="565.02" cy="756.9" r="4" fill="#000000"/>
<circle cx="642.93" cy="764.6" r="4" fill="#000000"/>
<rect x="409.4" y="735.5" width="4.2" height="4.2" fill="#a30000"/>
<rect x="405.2" y="740.7" width="3.4" height="3.4" fill="#000084"/>
<circle cx="409.3" cy="740.3" r="4" fill="#000000"/>
<text transform="translate(409.99,727.55) scale(0.1226,0.1003)" font-size="100" fill="#000084">ns</text>
<text transform="translate(409.99,734.65) scale(0.1226,0.1003)" font-size="100" fill="#c56400">ns</text>
<text transform="translate(440.86,875.8) scale(0.1358,0.1156)" font-size="100" fill="#000084">***</text>
<text transform="translate(457.96,834.9) scale(0.1358,0.1156)" font-size="100" fill="#c56400">***</text>
<text transform="translate(505.46,863.9) scale(0.1358,0.1156)" font-size="100" fill="#000084">***</text>
<text transform="translate(505.46,871.4) scale(0.1358,0.1156)" font-size="100" fill="#c56400">***</text>
<text transform="translate(557.46,863.9) scale(0.1358,0.1156)" font-size="100" fill="#000084">***</text>
<text transform="translate(557.46,871.4) scale(0.1358,0.1156)" font-size="100" fill="#c56400">***</text>
<text transform="translate(635.16,863.9) scale(0.1358,0.1156)" font-size="100" fill="#000084">***</text>
<text transform="translate(635.16,871.4) scale(0.1358,0.1156)" font-size="100" fill="#c56400">***</text>
</svg></body></html>
